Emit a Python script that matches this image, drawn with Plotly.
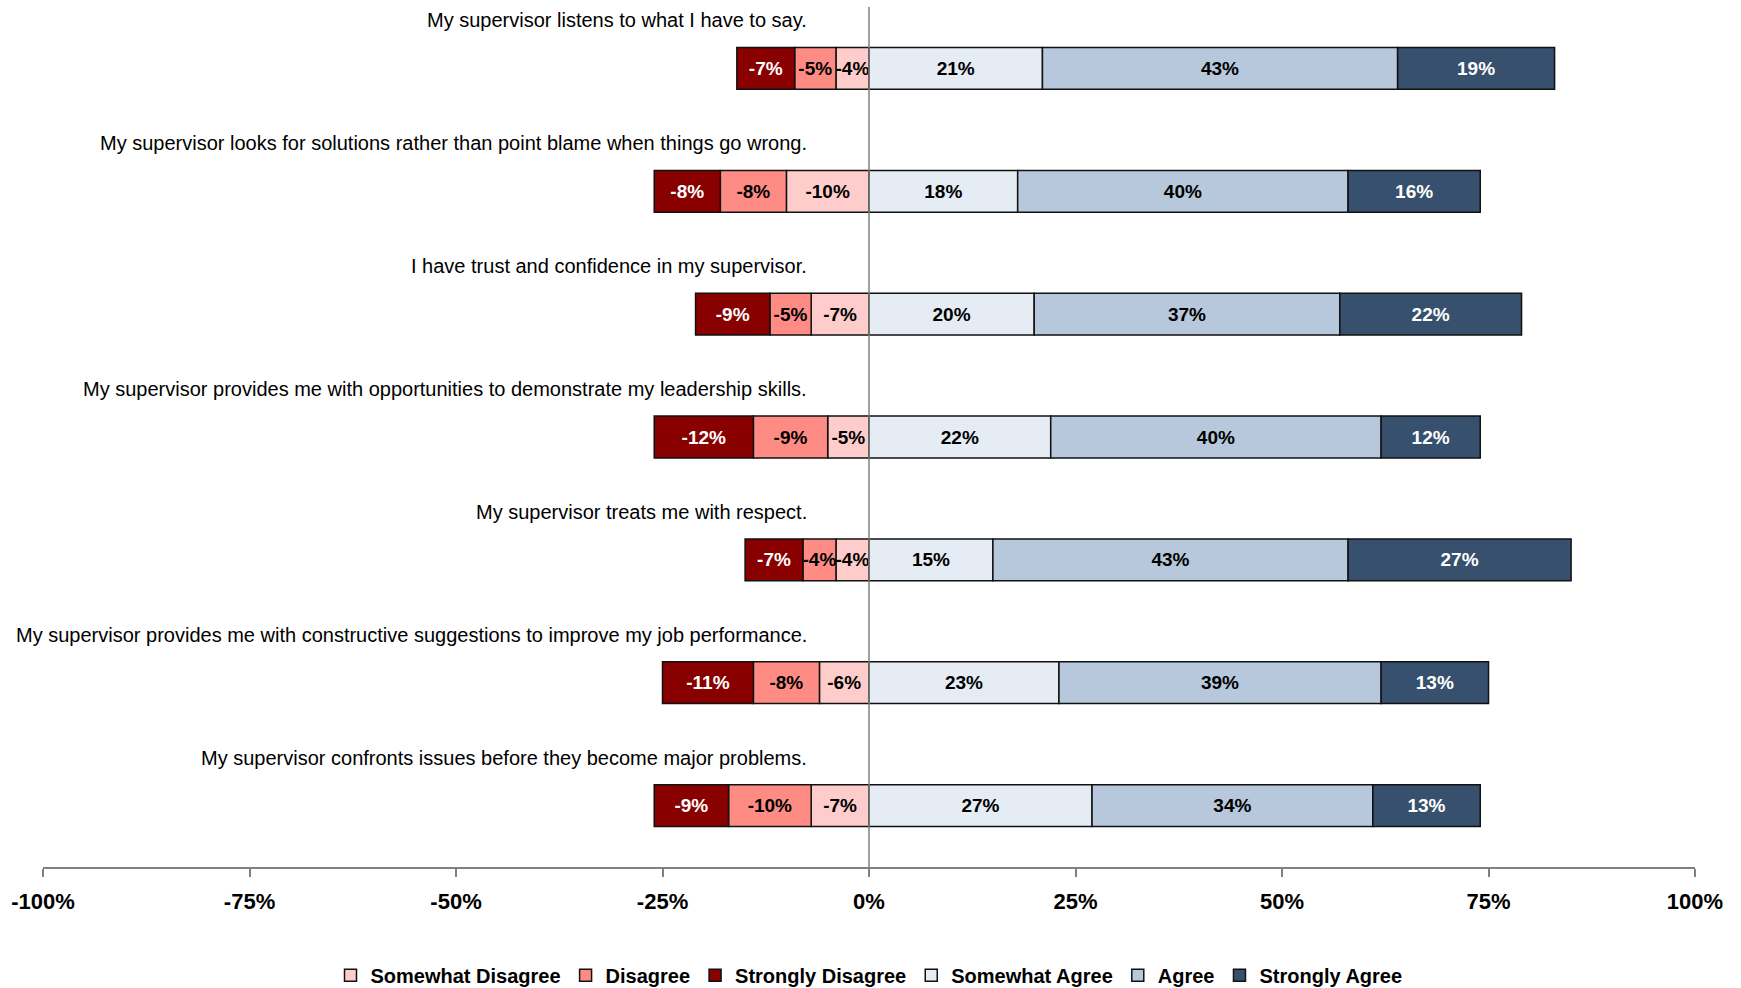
import plotly.graph_objects as go

# Survey statements, top to bottom
questions = [
    "My supervisor listens to what I have to say.",
    "My supervisor looks for solutions rather than point blame when things go wrong.",
    "I have trust and confidence in my supervisor.",
    "My supervisor provides me with opportunities to demonstrate my leadership skills.",
    "My supervisor treats me with respect.",
    "My supervisor provides me with constructive suggestions to improve my job performance.",
    "My supervisor confronts issues before they become major problems.",
]

# Response shares (%), disagreement shown as negative values
somewhat_disagree = [-4, -10, -7, -5, -4, -6, -7]
disagree = [-5, -8, -5, -9, -4, -8, -10]
strongly_disagree = [-7, -8, -9, -12, -7, -11, -9]
somewhat_agree = [21, 18, 20, 22, 15, 23, 27]
agree = [43, 40, 37, 40, 43, 39, 34]
strongly_agree = [19, 16, 22, 12, 27, 13, 13]

tick_vals = [-100, -75, -50, -25, 0, 25, 50, 75, 100]
tick_text = ["-100%", "-75%", "-50%", "-25%", "0%", "25%", "50%", "75%", "100%"]

FONT = "Liberation Sans Narrow, Arial Narrow, Liberation Sans, sans-serif"

series = [
    ("Somewhat Disagree", somewhat_disagree, "#FFCCCC", "black"),
    ("Disagree", disagree, "#FF8C84", "black"),
    ("Strongly Disagree", strongly_disagree, "#880000", "white"),
    ("Somewhat Agree", somewhat_agree, "#E5ECF4", "black"),
    ("Agree", agree, "#B7C8DC", "black"),
    ("Strongly Agree", strongly_agree, "#36506E", "white"),
]

fig = go.Figure()
for name, vals, color, txtcolor in series:
    fig.add_trace(go.Bar(
        name=name,
        y=questions,
        x=vals,
        orientation="h",
        marker=dict(color=color, line=dict(color="#111111", width=1.5)),
        text=[f"{v}%" for v in vals],
        textposition="inside",
        insidetextanchor="middle",
        textangle=0,
        constraintext="none",
        textfont=dict(family=FONT, size=19, color=txtcolor, weight="bold"),
        width=0.34,
        hoverinfo="skip",
    ))

# Statement labels above each bar
for q in questions:
    fig.add_annotation(
        x=0.4635, xref="paper", xanchor="right",
        y=q, yref="y", yanchor="middle", yshift=48,
        text=q, showarrow=False,
        font=dict(family=FONT, size=20, color="black"),
    )

# Zero reference line
fig.add_shape(type="line", xref="x", yref="paper", x0=0, x1=0, y0=0, y1=1,
              line=dict(color="#808080", width=1.5), layer="above")

fig.update_layout(
    barmode="relative",
    width=1741, height=988,
    margin=dict(l=43, r=46, t=7, b=121, autoexpand=False),
    plot_bgcolor="white", paper_bgcolor="white",
    font=dict(family=FONT, color="black"),
    showlegend=True,
    legend=dict(
        orientation="h", x=0.5, xanchor="center",
        yref="container", y=0.013, yanchor="middle",
        font=dict(family=FONT, size=20, color="black", weight="bold"),
        traceorder="normal", itemwidth=30,
    ),
    xaxis=dict(
        range=[-100, 100], tickvals=tick_vals, ticktext=tick_text,
        showgrid=False, zeroline=False,
        showline=True, linecolor="#808080", linewidth=2,
        ticks="outside", ticklen=8, tickwidth=2, tickcolor="#808080",
        ticklabelstandoff=6, automargin=False,
        tickfont=dict(family=FONT, size=22, color="black", weight="bold"),
        fixedrange=True,
    ),
    yaxis=dict(
        autorange="reversed", showticklabels=False, showgrid=False,
        zeroline=False, showline=False, ticks="", fixedrange=True,
        automargin=False,
    ),
)

fig.write_html("out.html")
